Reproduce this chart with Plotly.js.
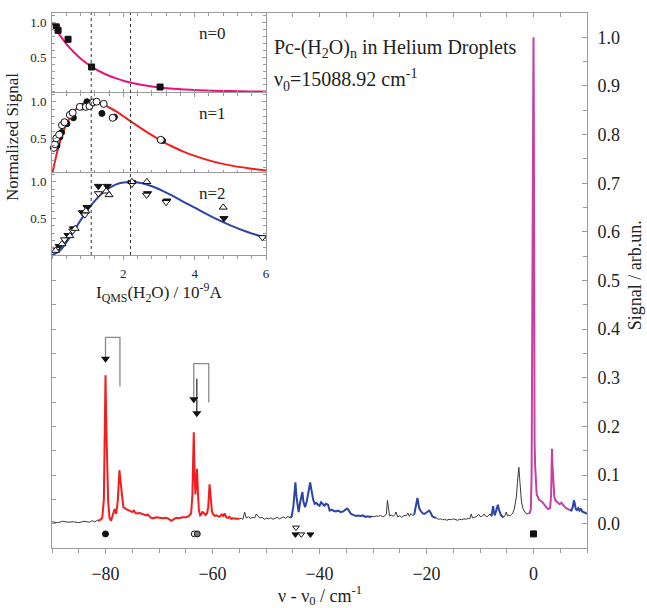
<!DOCTYPE html>
<html><head><meta charset="utf-8">
<script src="https://cdn.plot.ly/plotly-3.0.1.min.js"></script>
<style>html,body{margin:0;padding:0;background:#fff}</style>
</head><body><div id="chart" style="width:647px;height:608px"></div>
<script>
// ---------- main spectrum (wavenumber shift, cm-1 ; signal, arb. units) ----------
const black1X = [-90,-89,-88,-87,-86,-85,-84,-83,-82.5,-82,-81.5,-81.2];
const black1Y = [0.004,0.002,0.005,0.003,0.004,0.002,0.005,0.003,0.006,0.004,0.007,0.005];
const redX = [-81.4,-81.0,-80.6,-80.3,-80.1,-80.0,-79.85,-79.7,-79.5,-79.25,-78.95,-78.65,-78.3,-78.0,-77.7,-77.4,-77.2,-76.95,-76.65,-76.15,-75.5,-75.0,-74.7,-74.3,-73.6,-73.0,-72.4,-72.1,-71.6,-71.1,-70.5,-69.9,-69.3,-68.7,-68.2,-67.7,-67.2,-66.8,-66.2,-65.6,-64.9,-64.4,-64.0,-63.75,-63.6,-63.5,-63.35,-63.2,-63.05,-62.9,-62.75,-62.55,-62.3,-62.1,-61.9,-61.7,-61.5,-61.3,-61.0,-60.8,-60.55,-60.35,-60.1,-59.9,-59.6,-59.3,-59.0,-58.7,-58.3,-58.0,-57.75,-57.4,-57.1,-56.8,-56.5,-56.2,-55.6,-55.0];
const redY = [0.006,0.008,0.012,0.05,0.22,0.305,0.2,0.09,0.045,0.012,0.006,0.018,0.03,0.02,0.048,0.11,0.08,0.062,0.034,0.03,0.027,0.024,0.027,0.021,0.022,0.02,0.017,0.019,0.013,0.011,0.013,0.012,0.011,0.012,0.01,0.006,0.009,0.012,0.011,0.013,0.013,0.016,0.021,0.06,0.14,0.188,0.1,0.06,0.09,0.113,0.07,0.028,0.017,0.019,0.024,0.023,0.02,0.018,0.022,0.034,0.081,0.05,0.025,0.02,0.016,0.017,0.015,0.014,0.019,0.016,0.021,0.013,0.012,0.014,0.01,0.011,0.01,0.01];
const black2X = [-55,-54.6,-54.3,-54.0,-53.7,-53.3,-52.9,-52.5,-52.1,-51.8,-51.5,-51.1,-50.7,-50.3,-49.9,-49.5,-49.1,-48.7,-48.3,-47.9,-47.5,-47.1,-46.7,-46.3,-45.9,-45.5];
const black2Y = [0.01,0.011,0.009,0.024,0.012,0.014,0.011,0.013,0.012,0.02,0.015,0.012,0.013,0.009,0.011,0.01,0.012,0.009,0.011,0.013,0.01,0.012,0.014,0.011,0.015,0.012];
const blue1X = [-45.5,-45.2,-44.9,-44.7,-44.5,-44.3,-44.1,-43.9,-43.6,-43.4,-43.2,-43.0,-42.7,-42.4,-42.1,-41.9,-41.75,-41.5,-41.2,-40.9,-40.6,-40.3,-40.0,-39.7,-39.4,-39.1,-38.8,-38.4,-38.1,-37.7,-37.3,-36.9,-36.5,-36.1,-35.6,-35.2,-34.9,-34.7,-34.4,-34.1,-33.7,-33.2,-32.8,-32.3,-31.9,-31.4,-31.0,-30.6,-30.2];
const blue1Y = [0.012,0.015,0.034,0.06,0.085,0.055,0.035,0.024,0.045,0.06,0.065,0.045,0.034,0.045,0.06,0.075,0.085,0.07,0.05,0.041,0.043,0.039,0.037,0.044,0.04,0.037,0.041,0.039,0.027,0.029,0.026,0.025,0.027,0.024,0.025,0.028,0.031,0.03,0.024,0.02,0.018,0.016,0.017,0.016,0.017,0.014,0.015,0.014,0.015];
const black3X = [-30.2,-29.8,-29.4,-29.0,-28.6,-28.2,-27.8,-27.5,-27.3,-27.1,-26.9,-26.6,-26.2,-25.9,-25.7,-25.4,-25.0,-24.6,-24.2,-23.8,-23.5,-23.2,-22.9,-22.6,-22.3];
const black3Y = [0.015,0.014,0.016,0.015,0.017,0.014,0.016,0.02,0.048,0.025,0.016,0.018,0.015,0.019,0.024,0.014,0.016,0.013,0.017,0.016,0.022,0.015,0.021,0.017,0.018];
const blue2X = [-22.3,-22.05,-21.85,-21.7,-21.5,-21.3,-21.0,-20.7,-20.4,-20.1,-19.8,-19.5,-19.2,-18.9,-18.5,-18.2];
const blue2Y = [0.018,0.034,0.048,0.053,0.04,0.03,0.025,0.021,0.02,0.022,0.025,0.027,0.022,0.015,0.013,0.012];
const black4X = [-18.2,-17.8,-17.4,-17.0,-16.6,-16.2,-15.8,-15.4,-15.0,-14.6,-14.2,-13.8,-13.4,-13.0,-12.6,-12.2,-11.9,-11.65,-11.4,-11.0,-10.6,-10.25,-9.9,-9.5,-9.2,-9.0,-8.7,-8.4,-8.1,-7.85];
const black4Y = [0.012,0.009,0.01,0.008,0.009,0.007,0.009,0.008,0.01,0.008,0.007,0.009,0.008,0.01,0.009,0.011,0.01,0.02,0.012,0.013,0.015,0.019,0.014,0.016,0.02,0.016,0.014,0.017,0.02,0.015];
const blue3X = [-7.85,-7.7,-7.55,-7.4,-7.25,-7.1,-6.95,-6.8,-6.65,-6.5,-6.3,-6.1,-5.85,-5.6];
const blue3Y = [0.015,0.025,0.036,0.025,0.017,0.022,0.03,0.036,0.039,0.03,0.022,0.018,0.015,0.013];
const black5X = [-5.6,-5.35,-5.1,-4.85,-4.6,-4.35,-4.1,-3.85,-3.6,-3.4,-3.2,-3.0,-2.85,-2.74,-2.6,-2.45,-2.25,-2.0,-1.75,-1.5,-1.2,-0.9];
const black5Y = [0.013,0.016,0.024,0.016,0.018,0.016,0.019,0.022,0.03,0.04,0.055,0.085,0.105,0.116,0.095,0.07,0.045,0.032,0.026,0.022,0.02,0.021];
const magentaX = [-0.9,-0.7,-0.5,-0.35,-0.2,-0.1,0.0,0.05,0.12,0.2,0.3,0.45,0.6,0.8,1.0,1.3,1.6,1.9,2.2,2.5,2.8,3.1,3.3,3.45,3.55,3.7,3.9,4.1,4.3,4.6,4.9,5.2,5.5,5.8,6.1,6.4,6.8];
const magentaY = [0.021,0.022,0.03,0.1,0.5,0.93,1.0,0.9,0.4,0.17,0.12,0.075,0.06,0.055,0.05,0.047,0.045,0.041,0.035,0.032,0.03,0.032,0.06,0.154,0.12,0.075,0.055,0.048,0.046,0.044,0.04,0.043,0.038,0.035,0.032,0.03,0.028];
const blue4X = [6.8,7.1,7.35,7.55,7.7,7.9,8.1,8.35,8.6,8.85,9.1,9.4,9.7,10.0];
const blue4Y = [0.028,0.027,0.035,0.048,0.042,0.03,0.028,0.032,0.027,0.031,0.025,0.024,0.022,0.02];

// assignment symbols under the spectrum
const asgSquareX = [0], asgSquareY = [-0.021];
const asgCircleX = [-80], asgCircleY = [-0.021];
const asgOpenCircleX = [-63.4], asgOpenCircleY = [-0.021];
const asgHalfCircleX = [-62.85], asgHalfCircleY = [-0.021];
const asgTriDownX = [-44.5, -41.7], asgTriDownY = [-0.022, -0.022];
const asgTriDownOpenX = [-44.4, -43.4], asgTriDownOpenY = [-0.008, -0.022];

// brackets and arrows
const bracket1X = [-80, -80, -77.3, -77.3], bracket1Y = [0.34, 0.383, 0.383, 0.282];
const bracket2X = [-63.5, -63.5, -60.7, -60.7], bracket2Y = [0.257, 0.329, 0.329, 0.249];
const shaft3X = [-62.93, -62.93], shaft3Y = [0.298, 0.228];
const arrowHeadX = [-80, -63.5, -62.93], arrowHeadY = [0.339, 0.256, 0.227];

// ---------- inset: normalized signal vs I_QMS(H2O) ----------
const fitX  = [0,0.2,0.4,0.6,0.8,1.0,1.2,1.4,1.6,1.8,2.0,2.2,2.5,2.8,3.1,3.4,3.7,4.0,4.5,5.0,5.5,6.0];
const fitN0 = [1.0,0.834,0.695,0.580,0.483,0.403,0.336,0.280,0.233,0.195,0.162,0.135,0.103,0.079,0.060,0.046,0.035,0.026,0.017,0.011,0.007,0.004];
const fitN1 = [0,0.413,0.688,0.859,0.954,0.996,0.996,0.969,0.921,0.867,0.801,0.734,0.636,0.543,0.457,0.382,0.316,0.261,0.186,0.131,0.092,0.063];
const fitN2 = [0,0.051,0.170,0.318,0.472,0.615,0.739,0.838,0.911,0.964,0.989,0.997,0.983,0.939,0.876,0.803,0.723,0.645,0.516,0.405,0.311,0.235];
const n0SqX = [0.12,0.17,0.45,1.11,3.03], n0SqY = [0.94,0.89,0.76,0.36,0.07];
const n1FillX = [0.14,0.22,0.27,0.42,0.60,0.85,0.98,1.40,1.75,3.1];
const n1FillY = [0.40,0.52,0.58,0.70,0.78,0.93,1.0,0.84,0.79,0.47];
const n1OpenX = [0.05,0.08,0.12,0.20,0.28,0.35,0.50,0.58,0.78,0.95,1.05,1.15,1.25,1.45,1.70,3.05];
const n1OpenY = [0.37,0.42,0.50,0.55,0.68,0.72,0.82,0.85,0.93,0.93,0.94,0.99,1.0,0.97,0.78,0.48];
const n2DownFillX = [0.20,0.45,0.60,0.85,0.98,1.30,1.55,2.24,2.68,3.22,4.82];
const n2DownFillY = [0.12,0.27,0.36,0.58,0.65,0.94,0.94,0.99,0.84,0.74,0.50];
const n2DownOpenX = [0.12,0.35,0.58,0.92,1.30,2.24,2.65,3.20,5.90];
const n2DownOpenY = [0.08,0.21,0.33,0.55,0.84,0.97,0.82,0.72,0.24];
const n2UpOpenX = [0.10,0.28,0.50,0.65,0.95,1.52,1.60,2.24,2.66,4.80];
const n2UpOpenY = [0.06,0.15,0.26,0.36,0.60,0.87,0.82,1.0,1.0,0.65];
const dashX = [1.1, 2.2];

// tick helpers
const topTickVals = [-50,-45,-40,-35,-30,-25,-20,-15,-10,-5,0,5,10];
const leftTickVals = [0,0.05,0.1,0.15,0.2,0.25,0.3,0.35,0.4,0.45,0.5];

const SERIF = '"Liberation Serif", "Times New Roman", serif';
const AX = '#9b9b9b';
const BLACK = '#3a3a3a', RED = '#f21d1d', BLUE = '#2b44a6', MAG = '#c43fa6';

function ln(x, y, color, w, xa, ya, shape) {
  return {type:'scatter', mode:'lines', x:x, y:y, line:{color:color, width:w, shape:shape||'linear'},
          xaxis:xa||'x', yaxis:ya||'y', hoverinfo:'skip', showlegend:false, cliponaxis:true};
}
function mk(x, y, symbol, size, fill, xa, ya, lw) {
  return {type:'scatter', mode:'markers', x:x, y:y, xaxis:xa||'x', yaxis:ya||'y', hoverinfo:'skip', showlegend:false,
          cliponaxis:false,
          marker:{symbol:symbol, size:size, color:fill, line:{color:'#111', width:(lw===undefined?1:lw)}}};
}

const traces = [
  ln(black1X, black1Y, BLACK, 1), ln(redX, redY, RED, 2), ln(black2X, black2Y, BLACK, 1),
  ln(blue1X, blue1Y, BLUE, 2), ln(black3X, black3Y, BLACK, 1), ln(blue2X, blue2Y, BLUE, 2),
  ln(black4X, black4Y, BLACK, 1), ln(blue3X, blue3Y, BLUE, 2), ln(black5X, black5Y, BLACK, 1),
  ln(magentaX, magentaY, MAG, 2), ln(blue4X, blue4Y, BLUE, 2),
  ln(bracket1X, bracket1Y, '#8a8a8a', 1.3), ln(bracket2X, bracket2Y, '#8a8a8a', 1.3),
  ln(shaft3X, shaft3Y, '#222', 1.2),
  mk(arrowHeadX, arrowHeadY, 'triangle-down', 8, '#111', 'x', 'y', 0),
  mk(asgSquareX, asgSquareY, 'square', 6, '#111'),
  mk(asgCircleX, asgCircleY, 'circle', 6, '#111'),
  mk(asgOpenCircleX, asgOpenCircleY, 'circle', 6, '#fff'),
  mk(asgHalfCircleX, asgHalfCircleY, 'circle', 6, '#777'),
  mk(asgTriDownX, asgTriDownY, 'triangle-down', 6, '#111'),
  mk(asgTriDownOpenX, asgTriDownOpenY, 'triangle-down', 6, '#fff'),
  // dummy traces for the extra tick-only axes
  {type:'scatter', mode:'lines', x:[null], y:[null], xaxis:'x5', yaxis:'y', showlegend:false, hoverinfo:'skip'},
  {type:'scatter', mode:'lines', x:[null], y:[null], xaxis:'x', yaxis:'y5', showlegend:false, hoverinfo:'skip'},
  // inset
  ln(fitX, fitN0, '#e8137d', 2, 'x2', 'y2', 'spline'),
  mk(n0SqX, n0SqY, 'square', 6, '#111', 'x2', 'y2'),
  ln(fitX, fitN1, RED, 2, 'x3', 'y3', 'spline'),
  mk(n1FillX, n1FillY, 'circle', 6, '#111', 'x3', 'y3'),
  mk(n1OpenX, n1OpenY, 'circle', 7, '#fff', 'x3', 'y3'),
  ln(fitX, fitN2, BLUE, 2, 'x4', 'y4', 'spline'),
  mk(n2DownFillX, n2DownFillY, 'triangle-down', 7, '#111', 'x4', 'y4'),
  mk(n2DownOpenX, n2DownOpenY, 'triangle-down', 7, '#fff', 'x4', 'y4'),
  mk(n2UpOpenX, n2UpOpenY, 'triangle-up', 7, '#fff', 'x4', 'y4')
];

function insetX(anchor, extra) {
  return Object.assign({domain:[0,0.4], range:[0,6], anchor:anchor, showline:true, linecolor:AX, linewidth:1,
    mirror:'ticks', showgrid:false, zeroline:false, tickmode:'linear', tick0:0, dtick:2, ticks:'inside', ticklen:4,
    tickcolor:AX, showticklabels:false,
    minor:{tickmode:'linear', tick0:0, dtick:0.4, ticks:'inside', ticklen:3, tickcolor:AX, showgrid:false}}, extra||{});
}
function insetY(anchor, domain, range) {
  return {domain:domain, range:range, anchor:anchor, showline:true, linecolor:AX, linewidth:1, mirror:'ticks',
    showgrid:false, zeroline:false, tickmode:'array', tickvals:[0.5,1.0], ticktext:['0.5','1.0'],
    ticks:'inside', ticklen:4, tickcolor:AX, tickfont:{size:13, family:SERIF, color:'#222'}, ticklabelstandoff:2,
    minor:{tickmode:'linear', tick0:0, dtick:0.1, ticks:'inside', ticklen:3, tickcolor:AX, showgrid:false}};
}

const shapes = dashX.map(v => ({type:'line', xref:'x2', yref:'paper', x0:v, x1:v, y0:0.5477, y1:1,
  line:{color:'#333', width:1, dash:'3px,3px'}}));

const annotations = [
  {xref:'paper', yref:'paper', x:0.411, y:0.934, xanchor:'left', yanchor:'middle', showarrow:false,
   text:'Pc-(H<sub>2</sub>O)<sub>n</sub> in Helium Droplets', font:{size:20}},
  {xref:'paper', yref:'paper', x:0.411, y:0.874, xanchor:'left', yanchor:'middle', showarrow:false,
   text:'ν<sub>0</sub>=15088.92 cm<sup>-1</sup>', font:{size:20}},
  {xref:'paper', yref:'paper', x:0.271, y:0.961, xanchor:'left', yanchor:'middle', showarrow:false, text:'n=0', font:{size:17}},
  {xref:'paper', yref:'paper', x:0.271, y:0.813, xanchor:'left', yanchor:'middle', showarrow:false, text:'n=1', font:{size:17}},
  {xref:'paper', yref:'paper', x:0.271, y:0.663, xanchor:'left', yanchor:'middle', showarrow:false, text:'n=2', font:{size:17}},
  {xref:'paper', yref:'paper', x:-0.075, y:0.768, xanchor:'center', yanchor:'middle', showarrow:false,
   text:'Normalized Signal', textangle:-90, font:{size:17}},
  {xref:'paper', yref:'paper', x:0.2, y:0.478, xanchor:'center', yanchor:'middle', showarrow:false,
   text:'I<sub>QMS</sub>(H<sub>2</sub>O) / 10<sup>-9</sup>A', font:{size:17}},
  {xref:'paper', yref:'paper', x:0.5, y:-0.088, xanchor:'center', yanchor:'middle', showarrow:false,
   text:'ν - ν<sub>0</sub> / cm<sup>-1</sup>', font:{size:18}},
  {xref:'paper', yref:'paper', x:1.09, y:0.51, xanchor:'center', yanchor:'middle', showarrow:false,
   text:'Signal / arb.un.', textangle:-90, font:{size:18}}
];

const layout = {
  width:647, height:608, margin:{l:52, r:60, t:13, b:60}, paper_bgcolor:'#fff', plot_bgcolor:'#fff',
  showlegend:false, font:{family:SERIF, color:'#222', size:18},
  xaxis:{domain:[0,1], range:[-90,10], anchor:'y', tickmode:'linear', tick0:0, dtick:20, ticks:'outside', ticklen:5,
    tickcolor:AX, showline:true, linecolor:AX, linewidth:1, mirror:true, showgrid:false, zeroline:false,
    tickfont:{size:18, family:SERIF, color:'#222'}, ticklabelstandoff:4,
    minor:{tickmode:'linear', tick0:0, dtick:5, ticks:'outside', ticklen:4, tickcolor:AX, showgrid:false}},
  yaxis:{domain:[0,1], range:[-0.05,1.05], anchor:'x', side:'right', tickmode:'linear', tick0:0, dtick:0.1,
    tickformat:'.1f', ticks:'inside', ticklen:5, tickcolor:AX, showline:true, linecolor:AX, linewidth:1, mirror:true,
    showgrid:false, zeroline:false, tickfont:{size:18, family:SERIF, color:'#222'}, ticklabelstandoff:6,
    minor:{tickmode:'linear', tick0:0, dtick:0.05, ticks:'inside', ticklen:4, tickcolor:AX, showgrid:false}},
  xaxis5:{overlaying:'x', side:'top', anchor:'y', range:[-90,10], tickmode:'array', tickvals:topTickVals,
    ticks:'inside', ticklen:4, tickcolor:AX, showticklabels:false, showline:false, showgrid:false, zeroline:false},
  yaxis5:{overlaying:'y', side:'left', anchor:'x', range:[-0.05,1.05], tickmode:'array', tickvals:leftTickVals,
    ticks:'inside', ticklen:4, tickcolor:AX, showticklabels:false, showline:false, showgrid:false, zeroline:false},
  xaxis2: insetX('y2'),
  xaxis3: insetX('y3'),
  xaxis4: insetX('y4', {mirror:true, ticks:'outside', tickmode:'array', tickvals:[2,4,6], ticktext:['2','4','6'],
    showticklabels:true, tickfont:{size:13, family:SERIF, color:'#222'}, ticklabelstandoff:2,
    minor:{tickmode:'linear', tick0:0, dtick:0.4, ticks:'outside', ticklen:3, tickcolor:AX, showgrid:false}}),
  yaxis2: insetY('x2', [0.8505, 1.0], [-0.016, 1.14]),
  yaxis3: insetY('x3', [0.7009, 0.8505], [0.027, 1.119]),
  yaxis4: insetY('x4', [0.5477, 0.7009], [0, 1.119]),
  shapes: shapes,
  annotations: annotations
};

Plotly.newPlot('chart', traces, layout, {displayModeBar:false, staticPlot:true});
</script></body></html>
